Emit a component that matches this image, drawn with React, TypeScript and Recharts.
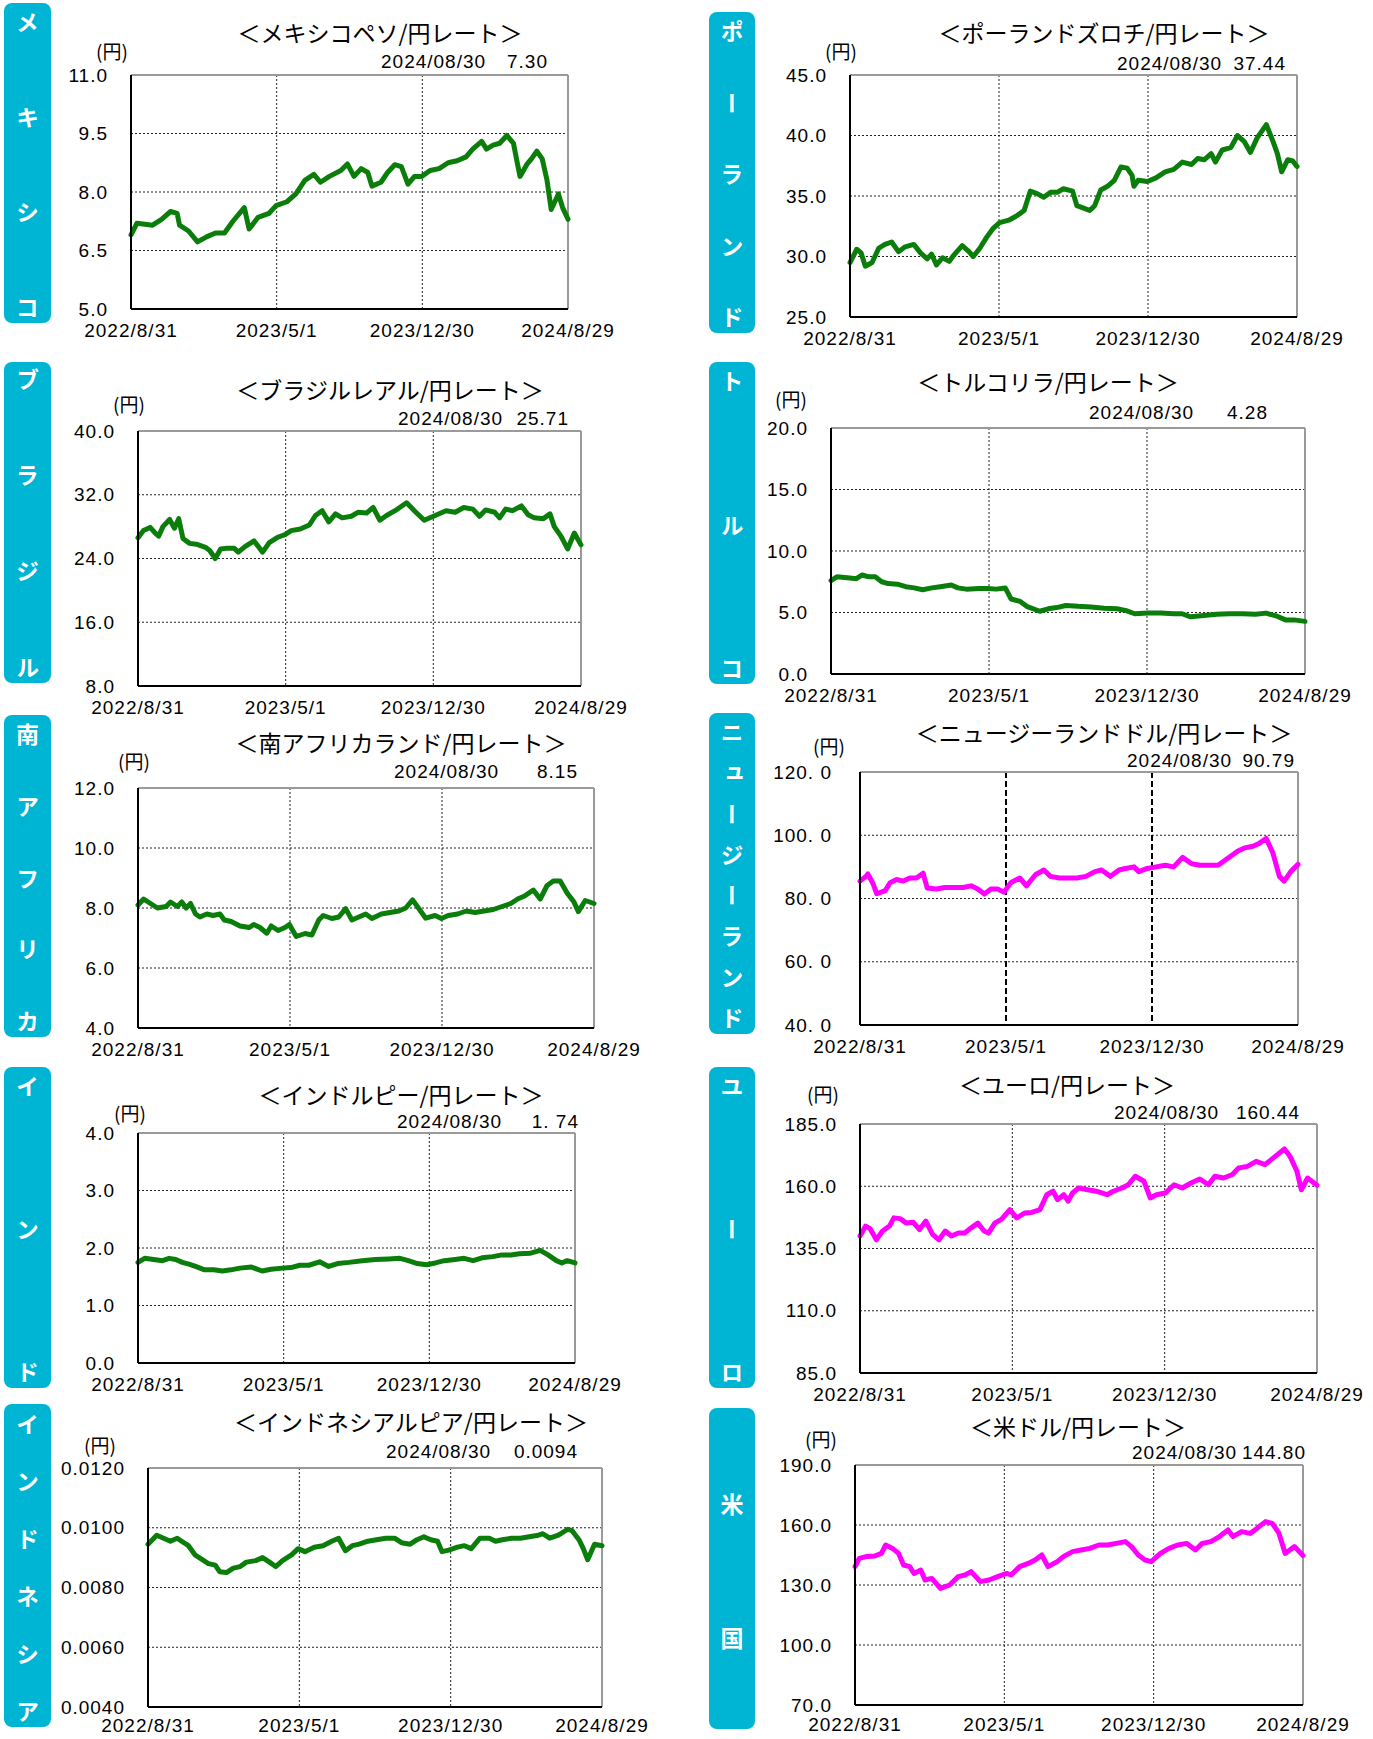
import React from 'react'
import { LineChart, Line, XAxis, YAxis, CartesianGrid, ReferenceLine } from 'recharts'

// days counted from 2022/8/31
const xTicks = [0, 243, 486, 729]
const xTickLabels = ['2022/8/31', '2023/5/1', '2023/12/30', '2024/8/29']
const lastDate = '2024/08/30'

const mxnRate = [
  [0, 6.9], [10, 7.2], [36, 7.15], [51, 7.3], [66, 7.5], [77, 7.45], [81, 7.15], [96, 7.0], [111, 6.72], [126, 6.85],
  [141, 6.95], [156, 6.95], [170, 7.25], [189, 7.6], [197, 7.05], [212, 7.35], [230, 7.45], [242, 7.65], [260, 7.75],
  [275, 7.95], [290, 8.3], [305, 8.45], [316, 8.25], [331, 8.4], [350, 8.55], [361, 8.72], [372, 8.4], [384, 8.6],
  [395, 8.5], [402, 8.15], [417, 8.25], [428, 8.5], [440, 8.7], [451, 8.65], [462, 8.2], [473, 8.4], [485, 8.4],
  [499, 8.55], [514, 8.6], [529, 8.75], [544, 8.8], [559, 8.9], [570, 9.1], [585, 9.3], [593, 9.1], [604, 9.2],
  [615, 9.25], [627, 9.45], [638, 9.25], [645, 8.7], [649, 8.4], [660, 8.7], [668, 8.85], [677, 9.05], [686, 8.85],
  [694, 8.3], [701, 7.55], [713, 7.95], [720, 7.6], [729, 7.3],
]

const plnRate = [
  [0, 29.5], [11, 30.6], [18, 30.3], [25, 29.2], [36, 29.5], [47, 30.7], [57, 31.0], [68, 31.2], [79, 30.4], [90, 30.8],
  [104, 31.0], [115, 30.3], [126, 29.8], [133, 30.2], [141, 29.3], [151, 29.9], [162, 29.6], [169, 30.1], [183, 30.9],
  [194, 30.4], [201, 30.0], [212, 30.7], [223, 31.6], [233, 32.3], [244, 32.8], [259, 33.0], [273, 33.4], [284, 33.8],
  [294, 35.4], [305, 35.2], [316, 34.9], [327, 35.3], [338, 35.3], [348, 35.6], [363, 35.4], [370, 34.2], [381, 34.0],
  [391, 33.8], [399, 34.2], [409, 35.5], [420, 35.8], [431, 36.3], [442, 37.4], [452, 37.3], [460, 36.7], [463, 35.8],
  [470, 36.3], [485, 36.2], [499, 36.5], [514, 37.0], [528, 37.2], [542, 37.8], [557, 37.6], [567, 38.1], [578, 38.0],
  [589, 38.5], [596, 37.8], [607, 38.8], [621, 39.0], [632, 40.0], [643, 39.5], [653, 38.6], [664, 39.8], [679, 40.9],
  [690, 39.5], [697, 38.5], [704, 37.0], [714, 38.0], [722, 37.9], [729, 37.44],
]

const brlRate = [
  [0, 26.6], [9, 27.5], [20, 27.9], [27, 27.3], [34, 26.8], [41, 28.0], [52, 28.9], [60, 27.8], [67, 29.0], [74, 26.5],
  [85, 25.9], [96, 25.8], [111, 25.4], [118, 25.0], [127, 24.0], [136, 25.2], [147, 25.3], [158, 25.3], [165, 24.8],
  [176, 25.5], [191, 26.2], [205, 24.8], [216, 26.0], [231, 26.7], [242, 27.0], [252, 27.5], [267, 27.7], [282, 28.2],
  [292, 29.4], [303, 30.0], [314, 28.6], [325, 29.6], [336, 29.1], [351, 29.3], [362, 29.8], [376, 29.7], [387, 30.4],
  [398, 28.8], [409, 29.4], [423, 30.0], [442, 31.0], [456, 29.9], [471, 28.8], [489, 29.4], [507, 30.0], [522, 29.8],
  [536, 30.4], [551, 30.2], [562, 29.3], [572, 30.1], [587, 29.8], [595, 29.1], [605, 30.2], [616, 30.0], [631, 30.6],
  [642, 29.5], [652, 29.1], [667, 29.0], [678, 29.6], [685, 28.0], [696, 26.8], [707, 25.2], [718, 27.2], [729, 25.71],
]

const tryRate = [
  [0, 7.6], [9, 7.9], [29, 7.8], [39, 7.75], [48, 8.05], [58, 7.9], [68, 7.9], [78, 7.5], [88, 7.35], [102, 7.3],
  [115, 7.1], [128, 7.0], [141, 6.85], [155, 7.0], [168, 7.1], [185, 7.24], [195, 7.0], [208, 6.9], [228, 6.95],
  [241, 6.95], [254, 6.9], [268, 7.0], [277, 6.1], [291, 5.9], [301, 5.5], [321, 5.1], [334, 5.3], [347, 5.4],
  [361, 5.57], [380, 5.5], [400, 5.45], [420, 5.35], [440, 5.3], [454, 5.15], [467, 4.9], [487, 4.95], [507, 4.95],
  [527, 4.9], [540, 4.9], [553, 4.65], [573, 4.75], [593, 4.85], [613, 4.9], [633, 4.9], [653, 4.85], [669, 4.95],
  [686, 4.7], [699, 4.4], [712, 4.4], [729, 4.28],
]

const zarRate = [
  [0, 8.1], [9, 8.3], [20, 8.15], [31, 8.0], [45, 8.05], [52, 8.2], [63, 8.05], [70, 8.2], [77, 8.0], [84, 8.15],
  [92, 7.8], [99, 7.7], [110, 7.8], [120, 7.75], [131, 7.8], [138, 7.6], [149, 7.55], [163, 7.4], [178, 7.35],
  [185, 7.45], [195, 7.35], [206, 7.16], [213, 7.4], [224, 7.25], [235, 7.35], [242, 7.45], [253, 7.05], [267, 7.15],
  [278, 7.1], [289, 7.6], [296, 7.75], [310, 7.65], [321, 7.7], [332, 7.98], [342, 7.6], [353, 7.7], [364, 7.8],
  [374, 7.65], [389, 7.8], [403, 7.85], [417, 7.9], [428, 8.0], [439, 8.27], [450, 7.95], [460, 7.66], [475, 7.75],
  [485, 7.65], [496, 7.75], [511, 7.8], [525, 7.9], [539, 7.85], [553, 7.9], [568, 7.95], [582, 8.05], [596, 8.15],
  [607, 8.3], [618, 8.4], [632, 8.6], [643, 8.3], [654, 8.75], [664, 8.9], [675, 8.9], [686, 8.5], [697, 8.2],
  [704, 7.88], [715, 8.25], [729, 8.15],
]

const nzdRate = [
  [0, 85.5], [10, 87.0], [13, 87.8], [21, 85.0], [28, 81.5], [42, 82.5], [50, 85.0], [61, 86.0], [72, 85.5], [83, 86.5],
  [94, 86.5], [105, 88.0], [112, 83.3], [127, 83.0], [141, 83.5], [156, 83.5], [171, 83.5], [185, 84.0], [196, 83.0],
  [207, 81.4], [218, 83.0], [229, 83.0], [240, 82.0], [251, 85.0], [266, 86.5], [277, 84.0], [292, 87.5], [306, 89.0],
  [317, 87.0], [332, 86.5], [347, 86.5], [361, 86.5], [376, 87.0], [391, 88.5], [402, 89.0], [417, 87.0], [431, 89.0],
  [442, 89.5], [456, 90.0], [464, 88.5], [478, 89.5], [493, 90.0], [508, 90.5], [522, 90.0], [537, 93.0], [552, 91.0],
  [566, 90.5], [581, 90.5], [596, 90.5], [607, 92.0], [618, 93.5], [629, 95.0], [640, 96.0], [654, 96.5], [665, 97.5],
  [676, 99.0], [687, 94.5], [698, 87.0], [706, 85.5], [717, 88.5], [729, 90.79],
]

const inrRate = [
  [0, 1.75], [11, 1.82], [26, 1.8], [41, 1.78], [52, 1.82], [63, 1.8], [74, 1.75], [85, 1.72], [96, 1.68], [111, 1.62],
  [126, 1.62], [141, 1.6], [155, 1.62], [170, 1.65], [189, 1.67], [207, 1.6], [222, 1.63], [241, 1.65], [255, 1.66],
  [270, 1.7], [285, 1.7], [303, 1.76], [318, 1.68], [333, 1.73], [352, 1.75], [374, 1.78], [396, 1.8], [418, 1.81],
  [437, 1.82], [451, 1.78], [466, 1.73], [481, 1.71], [496, 1.74], [511, 1.78], [529, 1.8], [544, 1.82], [559, 1.78],
  [574, 1.83], [592, 1.85], [607, 1.88], [622, 1.88], [636, 1.9], [655, 1.91], [671, 1.96], [684, 1.88], [698, 1.78],
  [707, 1.74], [716, 1.78], [729, 1.74],
]

const eurRate = [
  [0, 140], [9, 144], [16, 143], [26, 138.5], [36, 142], [47, 144], [54, 147.3], [64, 147], [74, 145.2], [85, 145.5],
  [95, 142.6], [105, 146], [116, 140.6], [126, 138.5], [136, 142], [146, 140], [157, 141.2], [167, 141.2], [177, 143.2],
  [188, 145.2], [198, 142], [205, 141.2], [215, 145.2], [226, 146.8], [239, 150.6], [250, 147.3], [263, 149.3],
  [274, 149.5], [287, 150.6], [298, 156.6], [308, 158], [315, 154.6], [325, 156.6], [332, 154], [339, 157.3],
  [349, 159.3], [363, 158.6], [377, 158], [394, 156.6], [404, 158], [418, 159.3], [428, 160.6], [439, 164], [453, 162],
  [463, 155.3], [473, 156.6], [487, 157.3], [501, 160.6], [514, 159.3], [528, 161.3], [542, 162.9], [556, 160.6],
  [566, 164], [580, 163.3], [594, 164.7], [604, 167.3], [618, 168], [632, 170], [646, 168.7], [659, 171.3], [677, 175],
  [686, 172], [697, 166], [704, 158.6], [714, 163.3], [729, 160.44],
]

const idrRate = [
  [0, 0.00945], [7, 0.0096], [14, 0.00975], [25, 0.00965], [36, 0.00955], [47, 0.00965], [54, 0.00955], [65, 0.0094],
  [76, 0.00908], [86, 0.00895], [97, 0.0088], [108, 0.00875], [115, 0.00853], [126, 0.0085], [137, 0.00865],
  [148, 0.0087], [158, 0.00885], [173, 0.0089], [184, 0.009], [195, 0.00885], [205, 0.0087], [216, 0.0089],
  [231, 0.0091], [241, 0.0093], [252, 0.0092], [267, 0.00935], [281, 0.0094], [295, 0.00955], [306, 0.00965],
  [317, 0.00923], [328, 0.0094], [339, 0.00945], [353, 0.00955], [367, 0.0096], [382, 0.00965], [396, 0.00965],
  [407, 0.0095], [421, 0.00945], [432, 0.0096], [443, 0.0097], [454, 0.0096], [465, 0.00955], [472, 0.0092],
  [483, 0.00925], [497, 0.00935], [508, 0.0094], [519, 0.0093], [533, 0.00965], [548, 0.00965], [558, 0.00955],
  [569, 0.0096], [584, 0.00965], [598, 0.00965], [612, 0.0097], [627, 0.00975], [634, 0.0098], [645, 0.00965],
  [659, 0.00975], [674, 0.00995], [681, 0.0099], [692, 0.0096], [699, 0.0093], [706, 0.00893], [717, 0.00945],
  [729, 0.0094],
]

const usdRate = [
  [0, 139.2], [7, 143.3], [18, 144.2], [32, 144.5], [43, 145.8], [50, 150], [61, 148.3], [71, 145.8], [79, 140],
  [89, 139.2], [96, 135.8], [107, 137.5], [114, 132.5], [125, 133.3], [139, 128.3], [154, 130], [168, 134.2],
  [179, 135], [189, 136.7], [204, 131.7], [218, 132.5], [232, 134.2], [247, 135.8], [254, 135], [268, 139.2],
  [282, 140.8], [293, 142.5], [304, 145], [314, 139.2], [329, 141.7], [339, 144.2], [354, 146.7], [368, 147.5],
  [382, 148.3], [397, 150], [411, 150], [425, 150.8], [440, 151.7], [450, 149.2], [461, 145], [472, 142.5],
  [482, 141.7], [497, 145.8], [511, 148.3], [525, 150], [540, 150.8], [554, 147.5], [565, 150.8], [579, 151.7],
  [593, 154.2], [607, 157.5], [615, 154.2], [629, 156.7], [643, 155.8], [654, 158.3], [668, 161.7], [679, 160.8],
  [690, 155.8], [700, 145.8], [715, 149.2], [729, 144.8],
]

const GREEN = '#0b7d0b'
const MAGENTA = '#ff00ff'
const BOX = '#00b4d4'
const JP = '"Noto Sans CJK JP", "Noto Sans", sans-serif'
const NUM = '"Liberation Sans", Arial, sans-serif'
const NUM_SIZE = 19
const NUM_SPACING = 1

const panels = [
  {
    box: [4, 3, 47, 320], chars: 'メキシコ', title: '＜メキシコペソ/円レート＞', titleAt: [380, 32], unitAt: [96, 50],
    dateAt: [381, 61], valueR: 548, value: '7.30', plot: [131, 75, 568, 309],
    yTicks: [5, 6.5, 8, 9.5, 11], yLabels: ['5.0', '6.5', '8.0', '9.5', '11.0'], data: mxnRate, color: GREEN,
  },
  {
    box: [709, 12, 46, 321], chars: 'ポーランド', title: '＜ポーランドズロチ/円レート＞', titleAt: [1104, 32], unitAt: [825, 50],
    dateAt: [1117, 63], valueR: 1286, value: '37.44', plot: [850, 75, 1297, 317],
    yTicks: [25, 30, 35, 40, 45], yLabels: ['25.0', '30.0', '35.0', '40.0', '45.0'], data: plnRate, color: GREEN,
  },
  {
    box: [4, 362, 47, 321], chars: 'ブラジル', title: '＜ブラジルレアル/円レート＞', titleAt: [390, 389], unitAt: [113, 403],
    dateAt: [398, 418], valueR: 569, value: '25.71', plot: [138, 431, 581, 686], pad: [6, 3],
    yTicks: [8, 16, 24, 32, 40], yLabels: ['8.0', '16.0', '24.0', '32.0', '40.0'], data: brlRate, color: GREEN,
  },
  {
    box: [709, 362, 46, 322], chars: 'トルコ', title: '＜トルコリラ/円レート＞', titleAt: [1048, 381], unitAt: [775, 398],
    dateAt: [1089, 412], valueR: 1268, value: '4.28', plot: [831, 428, 1305, 674],
    yTicks: [0, 5, 10, 15, 20], yLabels: ['0.0', '5.0', '10.0', '15.0', '20.0'], data: tryRate, color: GREEN,
  },
  {
    box: [4, 715, 47, 322], chars: '南アフリカ', title: '＜南アフリカランド/円レート＞', titleAt: [401, 742], unitAt: [118, 760],
    dateAt: [394, 771], valueR: 578, value: '8.15', plot: [138, 788, 594, 1028],
    yTicks: [4, 6, 8, 10, 12], yLabels: ['4.0', '6.0', '8.0', '10.0', '12.0'], data: zarRate, color: GREEN,
  },
  {
    box: [709, 713, 46, 321], chars: 'ニュージーランド', title: '＜ニュージーランドドル/円レート＞', titleAt: [1104, 732], unitAt: [813, 745],
    dateAt: [1127, 760], valueR: 1295, value: '90.79', plot: [860, 772, 1298, 1025], dashedV: true, yMargin: 28,
    yTicks: [40, 60, 80, 100, 120], yLabels: ['40. 0', '60. 0', '80. 0', '100. 0', '120. 0'], data: nzdRate, color: MAGENTA,
  },
  {
    box: [4, 1067, 47, 321], chars: 'インド', title: '＜インドルピー/円レート＞', titleAt: [401, 1094], unitAt: [114, 1112],
    dateAt: [397, 1121], valueR: 579, value: '1. 74', plot: [138, 1133, 575, 1363],
    yTicks: [0, 1, 2, 3, 4], yLabels: ['0.0', '1.0', '2.0', '3.0', '4.0'], data: inrRate, color: GREEN,
  },
  {
    box: [709, 1067, 46, 321], chars: 'ユーロ', title: '＜ユーロ/円レート＞', titleAt: [1067, 1084], unitAt: [807, 1093],
    dateAt: [1114, 1112], valueR: 1300, value: '160.44', plot: [860, 1124, 1317, 1373],
    yTicks: [85, 110, 135, 160, 185], yLabels: ['85.0', '110.0', '135.0', '160.0', '185.0'], data: eurRate, color: MAGENTA,
  },
  {
    box: [4, 1404, 47, 323], chars: 'インドネシア', title: '＜インドネシアルピア/円レート＞', titleAt: [411, 1421], unitAt: [84, 1444],
    dateAt: [386, 1451], valueR: 578, value: '0.0094', plot: [148, 1468, 602, 1707], pad: [9, 3], xMargin: 12,
    yTicks: [0.004, 0.006, 0.008, 0.01, 0.012], yLabels: ['0.0040', '0.0060', '0.0080', '0.0100', '0.0120'], data: idrRate, color: GREEN,
  },
  {
    box: [709, 1408, 46, 321], chars: '米国', title: '＜米ドル/円レート＞', titleAt: [1078, 1426], unitAt: [805, 1438],
    dateAt: [1132, 1452], valueR: 1306, value: '144.80', plot: [855, 1465, 1303, 1705], pad: [85, 78], xMargin: 13,
    yTicks: [70, 100, 130, 160, 190], yLabels: ['70.0', '100.0', '130.0', '160.0', '190.0'], data: usdRate, color: MAGENTA,
  },
]

function SideBox({ p }: { p: any }) {
  const [left, top, width, height] = p.box
  const [pt, pb] = p.pad ?? [8, 3]
  return (
    <div style={{
      position: 'absolute', left, top, width, height, background: BOX, borderRadius: 8,
      display: 'flex', flexDirection: 'column', alignItems: 'center', justifyContent: 'space-between',
      paddingTop: pt, paddingBottom: pb, boxSizing: 'border-box',
    }}>
      {Array.from(p.chars as string).map((c, i) => (
        <span key={i} style={{
          writingMode: 'vertical-rl', color: '#fff', fontFamily: JP, fontWeight: 700,
          fontSize: 23, lineHeight: '24px', height: 24, display: 'block',
        }}>{c}</span>
      ))}
    </div>
  )
}

const textAt = (x: number, y: number, extra: any = {}) => ({
  position: 'absolute' as const, left: x, top: y, transform: 'translateY(-50%)', lineHeight: 1,
  whiteSpace: 'nowrap' as const, color: '#000', ...extra,
})

function RatePanel({ p }: { p: any }) {
  const [x0, y0, x1, y1] = p.plot
  const ML = 100, MR = 60, MT = 12, MB = 40
  const data = p.data.map(([d, v]: number[]) => ({ d, v }))
  const yMin = p.yTicks[0]
  const yMax = p.yTicks[p.yTicks.length - 1]
  const numStyle = { fontFamily: NUM, fontSize: NUM_SIZE, letterSpacing: NUM_SPACING }
  const tickStyle = { fill: '#000', ...numStyle }
  return (
    <>
      <SideBox p={p} />
      <div style={{ ...textAt(p.titleAt[0], p.titleAt[1]), transform: 'translate(-50%, -50%)', fontFamily: JP, fontSize: 23 }}>
        {p.title}
      </div>
      <div style={textAt(p.unitAt[0], p.unitAt[1], { fontFamily: JP, fontSize: 19 })}>(円)</div>
      <div style={textAt(p.dateAt[0], p.dateAt[1], numStyle)}>{lastDate}</div>
      <div style={{ ...textAt(p.valueR, p.dateAt[1], numStyle), transform: 'translate(-100%, -50%)' }}>
        {p.value}
      </div>
      <div style={{ position: 'absolute', left: x0 - ML, top: y0 - MT }}>
        <LineChart width={x1 - x0 + ML + MR} height={y1 - y0 + MT + MB} data={data}
          margin={{ top: MT, right: MR, bottom: 0, left: 0 }}>
          <CartesianGrid vertical={false} stroke="#222" strokeDasharray="2 2" strokeWidth={1} />
          <CartesianGrid horizontal={false} stroke={p.dashedV ? '#000' : '#222'}
            strokeDasharray={p.dashedV ? '6 3' : '2 2'} strokeWidth={p.dashedV ? 2 : 1} />
          <ReferenceLine y={yMax} stroke="#9a9a9a" strokeWidth={2} />
          <ReferenceLine x={729} stroke="#9a9a9a" strokeWidth={2} />
          <XAxis dataKey="d" type="number" domain={[0, 729]} ticks={xTicks} interval={0} height={MB}
            tickFormatter={(v: number) => xTickLabels[xTicks.indexOf(v)]} tickSize={0} tickMargin={p.xMargin ?? 15}
            axisLine={{ stroke: '#000', strokeWidth: 2 }} tick={tickStyle} />
          <YAxis type="number" domain={[yMin, yMax]} ticks={p.yTicks} interval={0} width={ML}
            tickFormatter={(v: number) => p.yLabels[p.yTicks.indexOf(v)]} tickSize={0} tickMargin={p.yMargin ?? 23}
            axisLine={{ stroke: '#000', strokeWidth: 2 }} tick={tickStyle} />
          <Line dataKey="v" type="linear" stroke={p.color} strokeWidth={5} dot={false}
            strokeLinejoin="round" strokeLinecap="round" isAnimationActive={false} />
        </LineChart>
      </div>
    </>
  )
}

export default function App() {
  return (
    <div style={{ position: 'absolute', left: 0, top: 0, width: 1373, height: 1739, background: '#fff', overflow: 'hidden' }}>
      {panels.map((p, i) => <RatePanel key={i} p={p} />)}
    </div>
  )
}
